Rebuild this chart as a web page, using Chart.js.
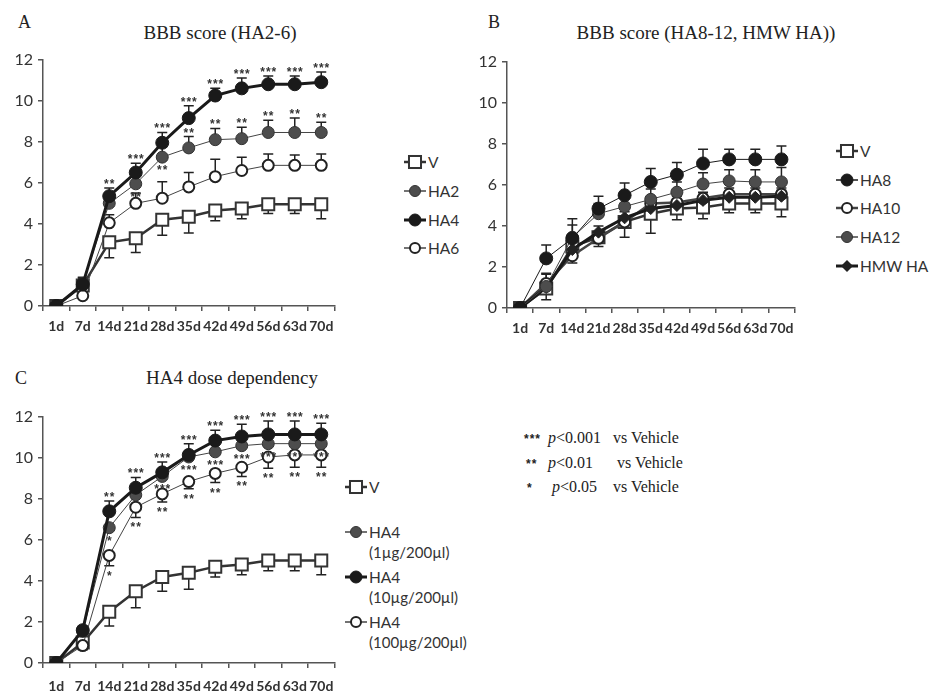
<!DOCTYPE html>
<html>
<head>
<meta charset="utf-8">
<script src="https://cdn.jsdelivr.net/npm/chart.js@4.4.1/dist/chart.umd.min.js"></script>
<style>
  body { margin: 0; width: 930px; height: 694px; background: #fff; position: relative; overflow: hidden; }
  .abs { position: absolute; }
  .serif { font-family: 'Liberation Serif', serif; color: #222; }
  .title { font-size: 19px; transform: translateX(-50%); white-space: nowrap; }
  .letter { font-size: 18px; }
  .leg { position: absolute; display: flex; align-items: center; height: 18px; font-family: Lato, sans-serif; font-size: 15.5px; color: #333; white-space: nowrap; }
  .leg svg { margin-right: 2px; }
  .sub { position: absolute; font-family: Lato, sans-serif; font-size: 15px; color: #333; white-space: nowrap; }
  .pl { position: absolute; font-family: 'Liberation Serif', serif; font-size: 16px; color: #222; white-space: nowrap; line-height: 18px; }
  .st { font-family: 'Liberation Sans', sans-serif; font-weight: bold; font-size: 12px; letter-spacing: 1px; }
</style>
</head>
<body>
<div class="abs serif letter" style="left:18px; top:12px;">A</div>
<div class="abs serif title" style="left:220px; top:22px;">BBB score (HA2-6)</div>
<div class="abs serif letter" style="left:488px; top:12px;">B</div>
<div class="abs serif title" style="left:706px; top:22px;">BBB score (HA8-12, HMW HA))</div>
<div class="abs serif letter" style="left:15px; top:368px;">C</div>
<div class="abs serif title" style="left:232px; top:367px;">HA4 dose dependency</div>

<canvas id="chart-a" class="abs" width="345" height="300" style="left:0; top:45px;"></canvas>
<canvas id="chart-b" class="abs" width="345" height="300" style="left:460px; top:45px;"></canvas>
<canvas id="chart-c" class="abs" width="345" height="294" style="left:0; top:400px;"></canvas>

<div id="legend-a"></div>
<div id="legend-b"></div>
<div id="legend-c"></div>

<div class="pl" style="left:524px; top:429px;"><span class="st">***</span></div>
<div class="pl" style="left:548px; top:429px;"><i>p</i>&lt;0.001</div>
<div class="pl" style="left:613px; top:429px;">vs Vehicle</div>
<div class="pl" style="left:526px; top:454px;"><span class="st">**</span></div>
<div class="pl" style="left:548px; top:454px;"><i>p</i>&lt;0.01</div>
<div class="pl" style="left:617px; top:454px;">vs Vehicle</div>
<div class="pl" style="left:527px; top:478px;"><span class="st">*</span></div>
<div class="pl" style="left:552px; top:478px;"><i>p</i>&lt;0.05</div>
<div class="pl" style="left:613px; top:478px;">vs Vehicle</div>

<script>
const days = ['1d', '7d', '14d', '21d', '28d', '35d', '42d', '49d', '56d', '63d', '70d'];

// A: HA2-6
const aV = [0, 1.0, 3.1, 3.3, 4.2, 4.35, 4.65, 4.75, 4.95, 4.95, 4.95];
const aVErr = [0, 0.3, 0.75, 0.7, 0.75, 0.8, 0.5, 0.5, 0.45, 0.45, 0.7];
const aHA2 = [0, 1.1, 5.0, 5.95, 7.25, 7.7, 8.1, 8.15, 8.45, 8.45, 8.45];
const aHA2Err = [0, 0.3, 0.4, 0.5, 0.5, 0.55, 0.55, 0.55, 0.6, 0.7, 0.5];
const aHA4 = [0, 1.05, 5.35, 6.5, 7.95, 9.15, 10.25, 10.6, 10.8, 10.8, 10.9];
const aHA4Err = [0, 0.3, 0.4, 0.45, 0.5, 0.6, 0.35, 0.5, 0.4, 0.4, 0.5];
const aHA6 = [0, 0.5, 4.05, 5.0, 5.25, 5.8, 6.3, 6.6, 6.85, 6.85, 6.85];
const aHA6Err = [0, 0.2, 0.4, 0.5, 0.8, 0.7, 0.85, 0.65, 0.55, 0.5, 0.55];
const aHA2StarsUp = ['', '', '', '', '', '**', '**', '**', '**', '**', '**'];
const aHA2StarsDown = ['', '', '', '**', '**', '', '', '', '', '', ''];
const aHA4StarsUp = ['', '', '**', '***', '***', '***', '***', '***', '***', '***', '***'];

// B: HA8-12, HMW HA
const bV = [0, 0.95, 3.0, 3.45, 4.2, 4.6, 4.85, 4.9, 5.1, 5.1, 5.1];
const bVErr = [0, 0.55, 0.8, 0.45, 0.75, 0.95, 0.55, 0.55, 0.45, 0.45, 0.65];
const bHA8 = [0, 2.42, 3.4, 4.85, 5.5, 6.15, 6.5, 7.05, 7.25, 7.25, 7.25];
const bHA8Err = [0, 0.65, 0.95, 0.6, 0.6, 0.65, 0.6, 0.7, 0.5, 0.5, 0.65];
const bHA10 = [0, 1.2, 2.55, 3.4, 4.2, 5.1, 5.15, 5.35, 5.55, 5.55, 5.55];
const bHA10Err = [0, 0.5, 0.3, 0.3, 0.3, 0.3, 0.3, 0.3, 0.3, 0.3, 0.3];
const bHA12 = [0, 1.05, 3.45, 4.6, 4.95, 5.3, 5.65, 6.05, 6.2, 6.15, 6.15];
const bHA12Err = [0, 0.6, 0.6, 0.5, 0.5, 0.5, 0.5, 0.55, 0.55, 0.6, 0.7];
const bHMW = [0, 1.0, 2.85, 3.7, 4.4, 4.85, 5.0, 5.25, 5.4, 5.4, 5.45];
const bHMWErr = [0, 0.3, 0.3, 0.3, 0.3, 0.3, 0.3, 0.3, 0.3, 0.3, 0.3];

// C: HA4 dose dependency
const cV = [0, 1.0, 2.5, 3.5, 4.2, 4.4, 4.7, 4.8, 5.0, 5.0, 5.0];
const cVErr = [0, 0.3, 0.7, 0.8, 0.7, 0.8, 0.5, 0.5, 0.5, 0.5, 0.7];
const cHA4Low = [0, 1.55, 6.6, 8.2, 9.1, 10.05, 10.3, 10.6, 10.7, 10.7, 10.7];
const cHA4Mid = [0, 1.6, 7.4, 8.55, 9.3, 10.15, 10.85, 11.05, 11.15, 11.15, 11.15];
const cHA4MidErr = [0, 0.2, 0.5, 0.5, 0.5, 0.55, 0.5, 0.6, 0.65, 0.65, 0.55];
const cHA4High = [0, 0.85, 5.25, 7.6, 8.25, 8.85, 9.25, 9.55, 10.05, 10.15, 10.15];
const cHA4HighErr = [0, 0.2, 0.5, 0.5, 0.4, 0.35, 0.45, 0.45, 0.55, 0.6, 0.6];
const cLowStarsDown = ['', '', '*', '', '***', '***', '***', '***', '***', '***', '***'];
const cMidStarsUp = ['', '', '**', '***', '***', '***', '***', '***', '***', '***', '***'];
const cHighStarsDown = ['', '', '*', '**', '**', '**', '**', '**', '**', '**', '**'];

// marker / line styles
const sV = { pointStyle: 'rect', pointRadius: 8.5, pointBackgroundColor: '#fff', pointBorderColor: '#333', pointBorderWidth: 2, borderColor: '#333', borderWidth: 2.5 };
const sGray = { pointStyle: 'circle', pointRadius: 6, pointBackgroundColor: '#4d4d4d', pointBorderColor: '#333', pointBorderWidth: 1, borderColor: '#444', borderWidth: 1 };
const sBlack = { pointStyle: 'circle', pointRadius: 6.5, pointBackgroundColor: '#1a1a1a', pointBorderColor: '#1a1a1a', pointBorderWidth: 1, borderColor: '#1a1a1a', borderWidth: 3 };
const sBlackThin = { ...sBlack, borderWidth: 1 };
const sWhite = { pointStyle: 'circle', pointRadius: 5.5, pointBackgroundColor: '#fff', pointBorderColor: '#222', pointBorderWidth: 2, borderColor: '#444', borderWidth: 1 };
const sWhiteThick = { ...sWhite, borderWidth: 2.5 };
const sDiamond = { pointStyle: 'rectRot', pointRadius: 6, pointBackgroundColor: '#222', pointBorderColor: '#222', pointBorderWidth: 1, borderColor: '#1a1a1a', borderWidth: 3 };

const errorBars = {
  id: 'errorBars',
  beforeDatasetsDraw(chart) {
    const { ctx, scales: { x, y } } = chart;
    ctx.save();
    ctx.strokeStyle = '#222';
    ctx.lineWidth = 1.5;
    chart.data.datasets.forEach((ds) => {
      if (!ds.errors) return;
      ds.data.forEach((v, j) => {
        const e = ds.errors[j];
        if (!e) return;
        const px = x.getPixelForValue(j);
        const end = ds.errDir === 'down' ? v - e : v + e;
        const p0 = y.getPixelForValue(v);
        const p1 = y.getPixelForValue(end);
        ctx.beginPath();
        ctx.moveTo(px, p0);
        ctx.lineTo(px, p1);
        ctx.moveTo(px - 5, p1);
        ctx.lineTo(px + 5, p1);
        ctx.stroke();
      });
    });
    ctx.restore();
  },
  afterDatasetsDraw(chart) {
    const { ctx, scales: { x, y } } = chart;
    ctx.save();
    ctx.fillStyle = '#333';
    ctx.font = 'bold 12px "Liberation Sans"';
    ctx.letterSpacing = '1px';
    ctx.textAlign = 'center';
    ctx.textBaseline = 'alphabetic';
    chart.data.datasets.forEach((ds) => {
      const e = ds.errors || [];
      ds.data.forEach((v, j) => {
        const px = x.getPixelForValue(j) + 0.5;
        const up = ds.starsUp && ds.starsUp[j];
        const down = ds.starsDown && ds.starsDown[j];
        if (up) {
          const cy = ds.errDir === 'up' && e[j] ? y.getPixelForValue(v + e[j]) - 7 : y.getPixelForValue(v) - 11;
          ctx.fillText(up, px, cy + 7);
        }
        if (down) {
          const cy = ds.errDir === 'down' && e[j] ? y.getPixelForValue(v - e[j]) + 7 : y.getPixelForValue(v) + 10;
          ctx.fillText(down, px, cy + 7);
        }
      });
    });
    ctx.restore();
  },
};

const makeScales = (yWidth, xHeight, xPad) => ({
  x: {
    offset: true,
    grid: { drawOnChartArea: false, offset: true, tickLength: 5, color: '#555', lineWidth: 1.5 },
    border: { color: '#555', width: 1.5 },
    ticks: { color: '#333', font: { family: 'Lato', size: 14, weight: 'bold' }, padding: xPad, maxRotation: 0, minRotation: 0, autoSkip: false },
    afterFit: (s) => { s.height = xHeight; },
  },
  y: {
    min: 0,
    max: 12,
    ticks: { stepSize: 2, color: '#333', font: { family: 'Lato', size: 16 }, padding: 5 },
    grid: { drawOnChartArea: false, tickLength: 5, color: '#555', lineWidth: 1.5 },
    border: { color: '#555', width: 1.5 },
    afterFit: (s) => { s.width = yWidth; },
  },
});

const makeChart = (id, datasets, scales, padding) => new Chart(document.getElementById(id), {
  type: 'line',
  data: { labels: days, datasets: datasets },
  options: {
    responsive: false,
    animation: false,
    layout: { padding: padding },
    scales: scales,
    elements: { line: { tension: 0 } },
    plugins: { legend: { display: false }, tooltip: { enabled: false } },
  },
  plugins: [errorBars],
});

// first dataset is drawn on top
const chartA = makeChart('chart-a', [
  { label: 'HA4', data: aHA4, errors: aHA4Err, errDir: 'up', starsUp: aHA4StarsUp, ...sBlack },
  { label: 'HA2', data: aHA2, errors: aHA2Err, errDir: 'up', starsUp: aHA2StarsUp, starsDown: aHA2StarsDown, ...sGray },
  { label: 'HA6', data: aHA6, errors: aHA6Err, errDir: 'up', ...sWhite },
  { label: 'V', data: aV, errors: aVErr, errDir: 'down', ...sV },
], makeScales(43, 39, 7), { top: 12, right: 7, left: 0, bottom: 0 });

const chartB = makeChart('chart-b', [
  { label: 'HA8', data: bHA8, errors: bHA8Err, errDir: 'up', ...sBlackThin },
  { label: 'HA12', data: bHA12, errors: bHA12Err, errDir: 'up', ...sGray },
  { label: 'HMW HA', data: bHMW, errors: bHMWErr, errDir: 'up', ...sDiamond },
  { label: 'HA10', data: bHA10, errors: bHA10Err, errDir: 'up', ...sWhiteThick },
  { label: 'V', data: bV, errors: bVErr, errDir: 'down', ...sV },
], makeScales(47, 37, 7), { top: 17, right: 3, left: 0, bottom: 0 });

const chartC = makeChart('chart-c', [
  { label: 'HA4 (10µg/200µl)', data: cHA4Mid, errors: cHA4MidErr, errDir: 'up', starsUp: cMidStarsUp, ...sBlack },
  { label: 'HA4 (1µg/200µl)', data: cHA4Low, starsDown: cLowStarsDown, ...sGray },
  { label: 'HA4 (100µg/200µl)', data: cHA4High, errors: cHA4HighErr, errDir: 'down', starsDown: cHighStarsDown, ...sWhite },
  { label: 'V', data: cV, errors: cVErr, errDir: 'down', ...sV },
], makeScales(43, 31, 10), { top: 17, right: 8, left: 0, bottom: 0 });

// legends (HTML)
const icon = (s) => {
  const r = s.pointRadius;
  let mark;
  if (s.pointStyle === 'rect') {
    const h = r * Math.SQRT1_2;
    mark = `<rect x="${11 - h}" y="${9 - h}" width="${2 * h}" height="${2 * h}" fill="${s.pointBackgroundColor}" stroke="${s.pointBorderColor}" stroke-width="${s.pointBorderWidth}"/>`;
  } else if (s.pointStyle === 'rectRot') {
    mark = `<polygon points="11,${9 - r} ${11 + r},9 11,${9 + r} ${11 - r},9" fill="${s.pointBackgroundColor}"/>`;
  } else {
    mark = `<circle cx="11" cy="9" r="${r - 0.5}" fill="${s.pointBackgroundColor}" stroke="${s.pointBorderColor}" stroke-width="${s.pointBorderWidth}"/>`;
  }
  return `<svg width="22" height="18"><line x1="0" y1="9" x2="22" y2="9" stroke="${s.borderColor}" stroke-width="${Math.max(s.borderWidth, 1.5)}"/>${mark}</svg>`;
};

const buildLegend = (id, left, items) => {
  const box = document.getElementById(id);
  items.forEach(([label, style, cy, sub]) => {
    const el = document.createElement('div');
    el.className = 'leg';
    el.style.left = left + 'px';
    el.style.top = (cy - 9) + 'px';
    el.innerHTML = icon(style) + '<span>' + label + '</span>';
    box.appendChild(el);
    if (sub) {
      const s = document.createElement('div');
      s.className = 'sub';
      s.style.left = (left + 24) + 'px';
      s.style.top = (cy + 11) + 'px';
      s.textContent = sub;
      box.appendChild(s);
    }
  });
};

buildLegend('legend-a', 404, [['V', sV, 162], ['HA2', sGray, 191], ['HA4', sBlack, 220], ['HA6', sWhite, 248]]);
buildLegend('legend-b', 836, [['V', sV, 151], ['HA8', sBlackThin, 180], ['HA10', sWhiteThick, 208], ['HA12', sGray, 237], ['HMW HA', sDiamond, 266]]);
buildLegend('legend-c', 345, [['V', sV, 487], ['HA4', sGray, 532, '(1µg/200µl)'], ['HA4', sBlack, 577, '(10µg/200µl)'], ['HA4', sWhite, 622, '(100µg/200µl)']]);
</script>
</body>
</html>
